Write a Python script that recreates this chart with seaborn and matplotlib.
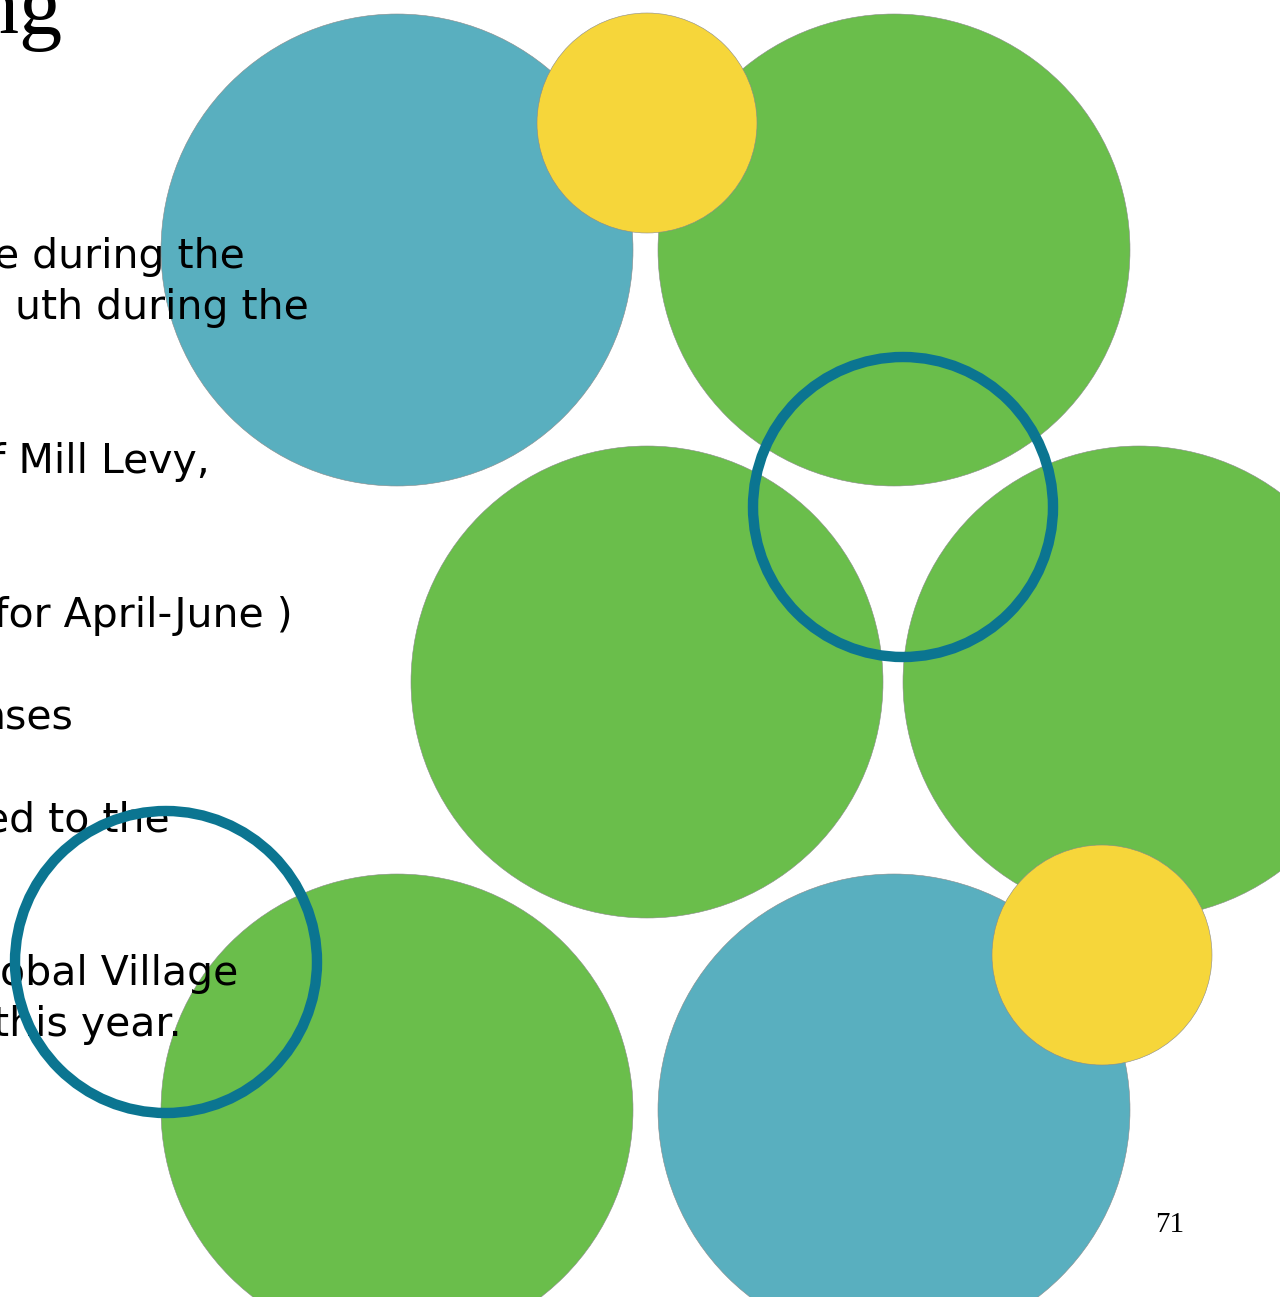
import matplotlib
matplotlib.use("Agg")
import matplotlib.pyplot as plt
from matplotlib.patches import Circle
import seaborn as sns

# Filled discs (page coordinates in px)
disc_x = [397, 894, 647, 1139, 397, 894, 647, 1102]
disc_y = [250, 250, 682, 682, 1110, 1110, 123, 955]
disc_r = [236, 236, 236, 236, 236, 236, 110, 110]
disc_color = ["#59AFBF", "#6ABE4B", "#6ABE4B", "#6ABE4B", "#6ABE4B", "#59AFBF", "#F6D63A", "#F6D63A"]

# Outline rings
ring_x = [903, 166]
ring_y = [507, 962]
ring_r = [150, 151]
ring_color = "#0B7591"

# Text fragments
text_lines = ["e during the", "uth during the", "f Mill Levy,", "for April-June )",
              "nses", "ed to the", "obal Village", "this year."]
text_right = [245, 309, 210, 293, 73, 170, 238, 182]
text_base = [268, 319, 473, 627, 729, 832, 985, 1036]

sns.set_theme(style="white")
plt.rcParams['font.family'] = ['DejaVu Sans']

fig = plt.figure(figsize=(12.8, 12.97), dpi=100)
ax = fig.add_axes([0, 0, 1, 1])
ax.set_xlim(0, 1280)
ax.set_ylim(1297, 0)
ax.set_aspect('equal')
ax.axis('off')

for x, y, r, c in zip(disc_x, disc_y, disc_r, disc_color):
    z = 2 if r < 200 else 1
    ax.add_patch(Circle((x, y), r, facecolor=c, edgecolor="#8a8a8a", linewidth=0.4, zorder=z))

for t, xr, yb in zip(text_lines, text_right, text_base):
    ax.text(xr, yb, t, ha='right', va='baseline', fontsize=29.5, color='black',
            family=['DejaVu Sans'], zorder=3)

ax.text(62, 33, "ng", ha='right', va='baseline', fontsize=62, color='black',
        family=['Liberation Serif', 'DejaVu Serif'], zorder=3)
ax.text(1170, 1232, "71", ha='center', va='baseline', fontsize=21, color='black',
        family=['Liberation Serif', 'DejaVu Serif'], zorder=3)

for x, y, r in zip(ring_x, ring_y, ring_r):
    ax.add_patch(Circle((x, y), r, facecolor='none', edgecolor=ring_color, linewidth=7.5, zorder=4))

fig.savefig("out.png", dpi=100)
